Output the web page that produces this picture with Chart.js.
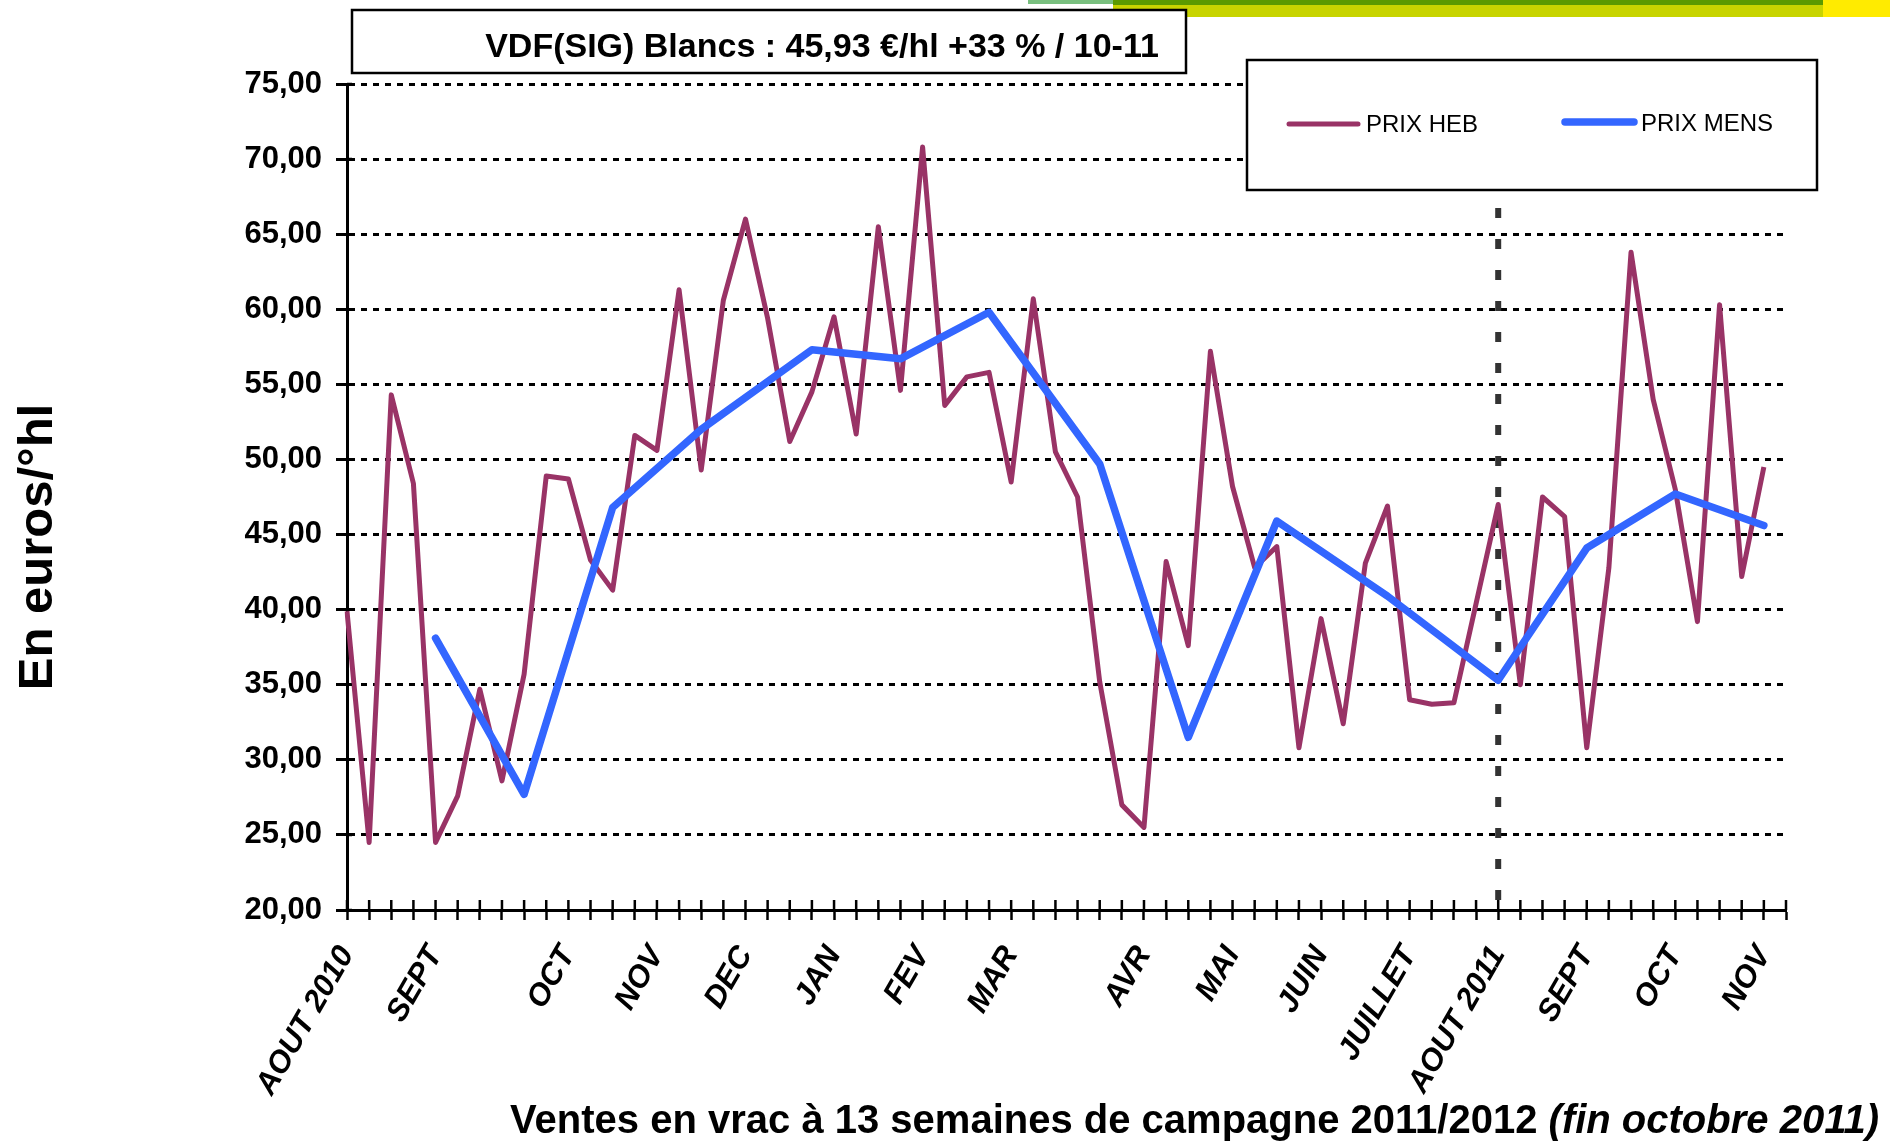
<!DOCTYPE html>
<html>
<head>
<meta charset="utf-8">
<script src="https://cdn.jsdelivr.net/npm/chart.js@4.4.1/dist/chart.umd.min.js"></script>
<style>
  html, body { margin: 0; padding: 0; background: #fff; }
  #wrap { width: 1890px; height: 1143px; position: relative; }
</style>
</head>
<body>
<div id="wrap"><canvas id="myChart"></canvas></div>
<script>
// semaines de campagne (66 positions, étiquette seulement au début du mois)
const weekLabels = [
  'AOUT 2010', '', '', '', 'SEPT', '', '', '', '', '',
  'OCT', '', '', '', 'NOV', '', '', '', 'DEC', '',
  '', '', 'JAN', '', '', '', 'FEV', '', '', '',
  'MAR', '', '', '', '', '', 'AVR', '', '', '',
  'MAI', '', '', '', 'JUIN', '', '', '', 'JUILLET', '',
  '', '', 'AOUT 2011', '', '', '', 'SEPT', '', '', '',
  'OCT', '', '', '', 'NOV', ''
];

// prix hebdomadaire
const prixHeb = [
  39.9, 24.5, 54.3, 48.4, 24.5, 27.6, 34.7, 28.6, 35.7, 48.9,
  48.7, 43.3, 41.3, 51.6, 50.6, 61.3, 49.3, 60.6, 66.0, 59.4,
  51.2, 54.5, 59.5, 51.7, 65.5, 54.6, 70.8, 53.6, 55.5, 55.8,
  48.5, 60.7, 50.5, 47.5, 35.2, 27.0, 25.5, 43.2, 37.6, 57.2,
  48.2, 42.8, 44.2, 30.8, 39.4, 32.4, 43.1, 46.9, 34.0, 33.7,
  33.8, 40.4, 47.0, 35.0, 47.5, 46.2, 30.8, 42.8, 63.8, 54.0,
  48.0, 39.2, 60.3, 42.2, 49.5, null
];

// prix mensuel
const prixMens = [
  null, null, null, null, 38.1, null, null, null, 27.7, null,
  null, null, 46.8, null, null, null, 52.0, null, null, null,
  null, 57.3, null, null, null, 56.7, null, null, null, 59.8,
  null, null, null, null, 49.7, null, null, null, 31.5, null,
  null, null, 45.9, null, null, null, null, 40.9, null, null,
  null, null, 35.3, null, null, null, 44.1, null, null, null,
  47.7, null, null, null, 45.6, null
];

const titleText = 'VDF(SIG) Blancs : 45,93 €/hl +33 % / 10-11';
const yTitle = 'En euros/°hl';
const xTitleMain = 'Ventes en vrac à 13 semaines de campagne 2011/2012 ';
const xTitleItalic = '(fin octobre 2011)';
const campaignStart = weekLabels.indexOf('AOUT 2011');

const FONT = "'Liberation Sans', Arial, sans-serif";
Chart.defaults.font.family = FONT;
Chart.defaults.color = '#000';

// trait vertical, cadres, légende et titres façon Excel
const decor = {
  id: 'decor',
  beforeDatasetsDraw(chart) {
    const { ctx, chartArea, scales } = chart;
    const px = scales.x.getPixelForValue(campaignStart);
    ctx.save();
    ctx.strokeStyle = '#333';
    ctx.lineWidth = 6;
    ctx.setLineDash([10, 21]);
    ctx.beginPath();
    ctx.moveTo(px, chartArea.top);
    ctx.lineTo(px, chartArea.bottom);
    ctx.stroke();
    ctx.restore();
  },
  afterDraw(chart) {
    const { ctx, chartArea, scales: { x, y } } = chart;
    const ds = chart.data.datasets;
    ctx.save();

    // graduations qui traversent les axes
    ctx.strokeStyle = '#000';
    ctx.lineWidth = 2.5;
    ctx.beginPath();
    x.ticks.forEach((t, i) => {
      const px = x.getPixelForTick(i);
      ctx.moveTo(px, chartArea.bottom - 10);
      ctx.lineTo(px, chartArea.bottom);
    });
    y.ticks.forEach((t, i) => {
      const py = y.getPixelForTick(i);
      ctx.moveTo(chartArea.left, py);
      ctx.lineTo(chartArea.left + 5, py);
    });
    ctx.stroke();

    // bandeau en haut
    ctx.fillStyle = '#79bf7f'; ctx.fillRect(1028, 0, 85, 4);
    ctx.fillStyle = '#c8d400'; ctx.fillRect(1113, 0, 710, 17);
    ctx.fillStyle = '#5b9a00'; ctx.fillRect(1113, 0, 710, 5);
    ctx.fillStyle = '#ffeb00'; ctx.fillRect(1823, 0, 67, 17);

    // titre
    ctx.fillStyle = '#fff';
    ctx.fillRect(352, 10, 834, 63);
    ctx.lineWidth = 2.5;
    ctx.strokeStyle = '#000';
    ctx.strokeRect(352, 10, 834, 63);
    ctx.fillStyle = '#000';
    ctx.font = `bold 34px ${FONT}`;
    ctx.textAlign = 'center';
    ctx.textBaseline = 'alphabetic';
    ctx.fillText(titleText, 822, 57);

    // légende
    ctx.fillStyle = '#fff';
    ctx.fillRect(1247, 60, 570, 130);
    ctx.strokeRect(1247, 60, 570, 130);
    ctx.lineCap = 'round';
    ctx.strokeStyle = ds[0].borderColor;
    ctx.lineWidth = 5;
    ctx.beginPath(); ctx.moveTo(1289, 124); ctx.lineTo(1358, 124); ctx.stroke();
    ctx.strokeStyle = ds[1].borderColor;
    ctx.lineWidth = 7.5;
    ctx.beginPath(); ctx.moveTo(1565, 122); ctx.lineTo(1634, 122); ctx.stroke();
    ctx.fillStyle = '#000';
    ctx.font = `24px ${FONT}`;
    ctx.textAlign = 'left';
    ctx.textBaseline = 'middle';
    ctx.fillText(ds[0].label, 1366, 125);
    ctx.fillText(ds[1].label, 1641, 124);

    // titre de l'axe des x
    ctx.textBaseline = 'alphabetic';
    ctx.font = `bold italic 40px ${FONT}`;
    const w2 = ctx.measureText(xTitleItalic).width;
    ctx.font = `bold 40px ${FONT}`;
    const w1 = ctx.measureText(xTitleMain).width;
    const start = 1879 - w1 - w2;
    ctx.fillText(xTitleMain, start, 1133);
    ctx.font = `bold italic 40px ${FONT}`;
    ctx.fillText(xTitleItalic, start + w1, 1133);

    // titre de l'axe des y
    ctx.font = `bold 49px ${FONT}`;
    ctx.textAlign = 'center';
    ctx.translate(52, 547);
    ctx.rotate(-Math.PI / 2);
    ctx.fillText(yTitle, 0, 0);
    ctx.restore();
  }
};

const ctx = document.getElementById('myChart');

const myChart = new Chart(ctx, {
  type: 'line',
  data: {
    labels: weekLabels,
    datasets: [
      {
        label: 'PRIX HEB',
        data: prixHeb,
        borderColor: '#993366',
        borderWidth: 5,
        pointRadius: 0,
        tension: 0,
        borderJoinStyle: 'round',
        order: 1,
      },
      {
        label: 'PRIX MENS',
        data: prixMens,
        borderColor: '#3366ff',
        borderWidth: 7.5,
        pointRadius: 0,
        tension: 0,
        spanGaps: true,
        borderJoinStyle: 'round',
        borderCapStyle: 'round',
        order: 0,
      },
    ],
  },
  options: {
    responsive: true,
    maintainAspectRatio: false,
    animation: false,
    layout: { padding: { top: 84, right: 104, left: 0, bottom: 0 } },
    plugins: {
      legend: { display: false },
      tooltip: { enabled: false },
    },
    scales: {
      x: {
        offset: false,
        grid: {
          display: true,
          drawOnChartArea: false,
          drawTicks: true,
          tickLength: 10,
          tickColor: '#000',
          tickWidth: 2.5,
        },
        border: { display: true, color: '#000', width: 3 },
        ticks: {
          autoSkip: false,
          maxRotation: 60,
          minRotation: 60,
          padding: 20,
          color: '#000',
          font: { size: 31, weight: 'bold', style: 'italic' },
        },
        afterFit: (s) => { s.height = 233; },
      },
      y: {
        min: 20,
        max: 75,
        ticks: {
          stepSize: 5,
          padding: 14,
          color: '#000',
          font: { size: 31, weight: 'bold' },
          callback: (v) => v.toFixed(2).replace('.', ','),
        },
        grid: {
          color: '#000',
          lineWidth: 3,
          tickLength: 11,
          tickColor: '#000',
          tickWidth: 3,
        },
        border: { display: true, color: '#000', width: 3, dash: [6, 6] },
        afterFit: (s) => { s.width = 347; },
      },
    },
  },
  plugins: [decor],
});
</script>
</body>
</html>
